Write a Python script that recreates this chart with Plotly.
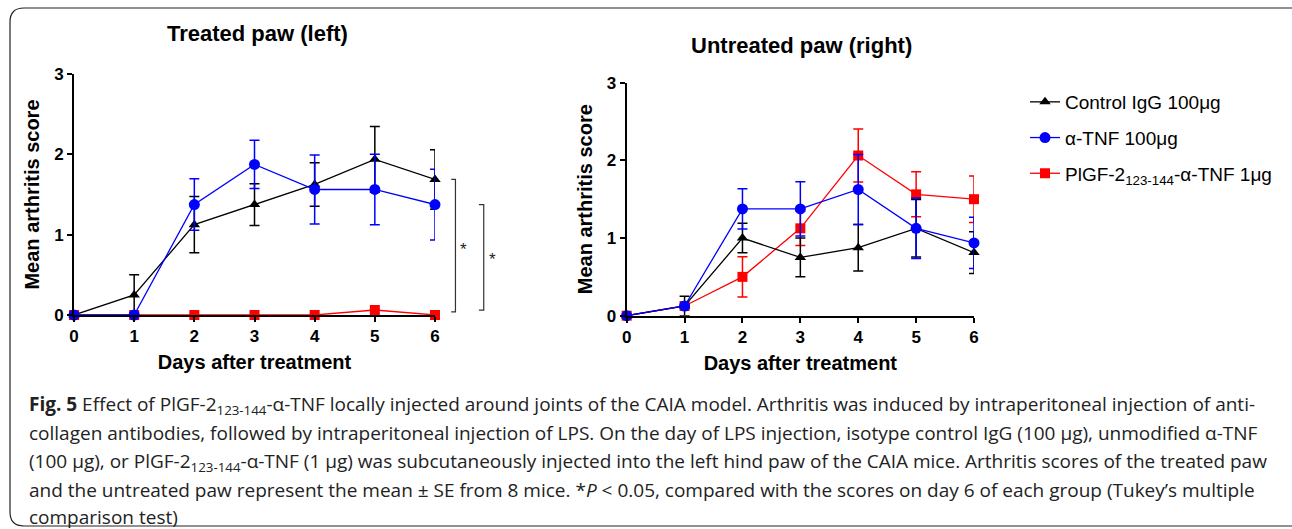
import plotly.graph_objects as go

W, H = 1292, 529

days = [0, 1, 2, 3, 4, 5, 6]

# Treated paw (left)
left_ctrl = [0, 0.25, 1.125, 1.375, 1.625, 1.9375, 1.6875]
left_ctrl_se = [0, 0.25, 0.35, 0.26, 0.27, 0.41, 0.37]
left_tnf = [0, 0, 1.375, 1.875, 1.5625, 1.5625, 1.375]
left_tnf_se = [0, 0, 0.32, 0.30, 0.43, 0.44, 0.44]
left_plgf = [0, 0, 0, 0, 0, 0.0625, 0]
left_plgf_se = [0, 0, 0, 0, 0, 0, 0]

# Untreated paw (right)
right_ctrl = [0, 0.125, 1.0, 0.75, 0.875, 1.125, 0.8125]
right_ctrl_se = [0, 0.125, 0.19, 0.25, 0.30, 0.37, 0.27]
right_tnf = [0, 0.125, 1.375, 1.375, 1.625, 1.125, 0.9375]
right_tnf_se = [0, 0, 0.26, 0.35, 0.45, 0.39, 0.33]
right_plgf = [0, 0.125, 0.5, 1.125, 2.0625, 1.5625, 1.5]
right_plgf_se = [0, 0, 0.26, 0.22, 0.34, 0.29, 0.30]

names = ["Control IgG 100\u03bcg", "\u03b1-TNF 100\u03bcg",
         "PlGF-2<sub>123-144</sub>-\u03b1-TNF 1\u03bcg"]
colors = ["#000000", "#0000FF", "#FF0000"]
symbols = ["triangle-up", "circle", "square"]
msizes = [10, 11, 10]

x_ticks = [0, 1, 2, 3, 4, 5, 6]
y_ticks = [0, 1, 2, 3]
x_range = [0, 6]
y_range = [0, 3]

# axis domains (paper fractions)
X1_DOM = [74 / W, 435 / W]
Y1_DOM = [(H - 315) / H, (H - 74) / H]
X2_DOM = [626.7 / W, 974 / W]
Y2_DOM = [(H - 315.7) / H, (H - 82.7) / H]

fig = go.Figure()

panels = [
    ("x", "y", [left_ctrl, left_tnf, left_plgf], [left_ctrl_se, left_tnf_se, left_plgf_se], True),
    ("x2", "y2", [right_ctrl, right_tnf, right_plgf], [right_ctrl_se, right_tnf_se, right_plgf_se], False),
]
order = [2, 0, 1]
for xa, ya, vals, ses, show in panels:
    for i in order:
        fig.add_trace(go.Scatter(
            x=days, y=vals[i], xaxis=xa, yaxis=ya,
            mode="lines+markers", name=names[i], showlegend=show,
            legendgroup=str(i), legendrank=i + 1,
            line=dict(color=colors[i], width=1.3),
            marker=dict(symbol=symbols[i], size=msizes[i], color=colors[i]),
            error_y=dict(type="data", array=ses[i], visible=True,
                         color=colors[i], thickness=1.5, width=5),
            cliponaxis=False,
        ))


def to_paper(xv, yv):
    px = X1_DOM[0] + (xv - x_range[0]) / (x_range[1] - x_range[0]) * (X1_DOM[1] - X1_DOM[0])
    py = Y1_DOM[0] + (yv - y_range[0]) / (y_range[1] - y_range[0]) * (Y1_DOM[1] - Y1_DOM[0])
    return px, py


# significance brackets (left panel) spanning each group's day-6 score down to PlGF's
def bracket(x0, x1, ytop, ybot, xstar, ystar):
    ax0, ay0 = to_paper(x0, ytop)
    ax1, ay1 = to_paper(x1, ybot)
    fig.add_shape(type="path", xref="paper", yref="paper",
                  path=f"M {ax0},{ay0} L {ax1},{ay0} L {ax1},{ay1} L {ax0},{ay1}",
                  line=dict(color="#333333", width=1.2))
    sx, sy = to_paper(xstar, ystar)
    fig.add_annotation(x=sx, y=sy, xref="paper", yref="paper", text="*",
                       showarrow=False, font=dict(size=17, color="#222222",
                                                  family="Liberation Sans"))


bracket(6.27, 6.34, left_ctrl[6], left_plgf[6] + 0.04, 6.48, 0.82)
bracket(6.73, 6.81, left_tnf[6], left_plgf[6] + 0.06, 6.96, 0.69)

axis_common = dict(
    showline=True, linecolor="black", linewidth=2, ticks="outside",
    ticklen=5, tickwidth=2, tickcolor="black", showgrid=False, zeroline=False,
    tickfont=dict(family="Liberation Sans", size=17, color="black", weight="bold"),
    fixedrange=True, automargin=False,
)
title_font = dict(family="Liberation Sans", size=20, color="black", weight="bold")

fig.update_layout(
    width=W, height=H, margin=dict(l=0, r=0, t=0, b=0, pad=0, autoexpand=False),
    paper_bgcolor="white", plot_bgcolor="white",
    xaxis=dict(domain=X1_DOM, range=x_range, tickvals=x_ticks,
               anchor="y", title=dict(text="Days after treatment", font=title_font, standoff=10),
               **axis_common),
    yaxis=dict(domain=Y1_DOM, range=y_range, tickvals=y_ticks,
               anchor="x", title=dict(text="Mean arthritis score", font=title_font, standoff=9),
               **axis_common),
    xaxis2=dict(domain=X2_DOM, range=x_range, tickvals=x_ticks,
                anchor="y2", title=dict(text="Days after treatment", font=title_font, standoff=10),
                **axis_common),
    yaxis2=dict(domain=Y2_DOM, range=y_range, tickvals=y_ticks,
                anchor="x2", title=dict(text="Mean arthritis score", font=title_font, standoff=9),
                **axis_common),
    legend=dict(x=1025 / W, y=1 - 83 / H, xanchor="left", yanchor="top",
                font=dict(family="Liberation Sans", size=19, color="black"),
                traceorder="grouped", tracegroupgap=8, bgcolor="rgba(0,0,0,0)"),
    showlegend=True,
)

# panel titles
fig.add_annotation(x=257 / W, y=1 - 34 / H, xref="paper", yref="paper",
                   xanchor="center", yanchor="middle",
                   text="<b>Treated paw (left)</b>", showarrow=False,
                   font=dict(family="Liberation Sans", size=22, color="black"))
fig.add_annotation(x=801 / W, y=1 - 46 / H, xref="paper", yref="paper",
                   xanchor="center", yanchor="middle",
                   text="<b>Untreated paw (right)</b>", showarrow=False,
                   font=dict(family="Liberation Sans", size=22, color="black"))

# rounded frame (pixel path converted to paper coords)
r = 14
x0, y0, x1, y1 = 10, 8, W + 20, 526
path = (f"M {x0},{y0 + r} Q {x0},{y0} {x0 + r},{y0} L {x1},{y0} "
        f"L {x1},{y1} L {x0 + r},{y1} Q {x0},{y1} {x0},{y1 - r} Z")


def conv(p):
    out = []
    for t in p.split():
        if "," in t:
            a, b = t.split(",")
            out.append(f"{float(a) / W:.5f},{1 - float(b) / H:.5f}")
        else:
            out.append(t)
    return " ".join(out)


fig.add_shape(type="path", xref="paper", yref="paper", path=conv(path),
              line=dict(color="#222222", width=1.2), layer="below")

cap_font = dict(family="Open Sans, Noto Sans, sans-serif", size=19, color="#222222")
caption = [
    "<b>Fig. 5</b> Effect of PlGF-2<sub>123-144</sub>-\u03b1-TNF locally injected around joints of the CAIA model. Arthritis was induced by intraperitoneal injection of anti-",
    "collagen antibodies, followed by intraperitoneal injection of LPS. On the day of LPS injection, isotype control IgG (100 \u03bcg), unmodified \u03b1-TNF",
    "(100 \u03bcg), or PlGF-2<sub>123-144</sub>-\u03b1-TNF (1 \u03bcg) was subcutaneously injected into the left hind paw of the CAIA mice. Arthritis scores of the treated paw",
    "and the untreated paw represent the mean \u00b1 SE from 8 mice. *<i>P</i> &lt; 0.05, compared with the scores on day 6 of each group (Tukey\u2019s multiple",
    "comparison test)",
]
cap_y = [405, 433, 462, 490, 517]
for txt, yy in zip(caption, cap_y):
    fig.add_annotation(x=27 / W, y=1 - yy / H, xref="paper", yref="paper",
                       xanchor="left", yanchor="middle", text=txt, showarrow=False,
                       font=cap_font)

fig.write_html("out.html", config={"displayModeBar": False},
               post_script="document.body.style.margin='0';document.body.style.overflow='hidden';")
